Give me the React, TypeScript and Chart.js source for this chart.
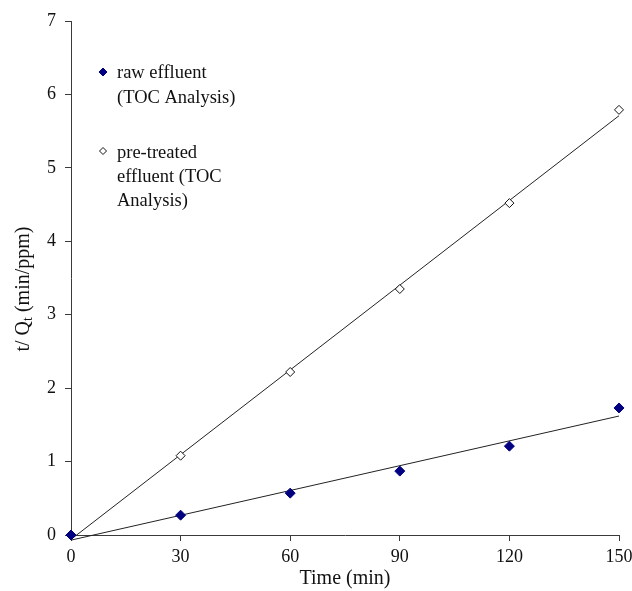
import React, { useEffect, useRef } from "react";
import { Chart, registerables } from "chart.js";

Chart.register(...registerables);

const times = [0, 30, 60, 90, 120, 150];
const rawEffluent = [0, 0.27, 0.57, 0.87, 1.21, 1.73];
const preTreated = [0, 1.08, 2.22, 3.35, 4.52, 5.79];
const trendX = [0, 150];
const rawTrend = [-0.07, 1.62];
const preTrend = [-0.06, 5.71];

const legendRaw = ["raw effluent", "(TOC Analysis)"];
const legendPre = ["pre-treated", "effluent (TOC", "Analysis)"];
const xTitle = "Time (min)";

const FONT = '"Liberation Serif", "Times New Roman", serif';
const AXIS = "#3a3a3a";

function diamond(ctx: CanvasRenderingContext2D, x: number, y: number, r: number, fill: string, stroke: string) {
  ctx.beginPath();
  ctx.moveTo(x, y - r);
  ctx.lineTo(x + r, y);
  ctx.lineTo(x, y + r);
  ctx.lineTo(x - r, y);
  ctx.closePath();
  ctx.fillStyle = fill;
  ctx.fill();
  ctx.strokeStyle = stroke;
  ctx.lineWidth = 1;
  ctx.stroke();
}

const overlay = {
  id: "overlay",
  afterDraw(chart: any) {
    const ctx: CanvasRenderingContext2D = chart.ctx;
    ctx.save();
    // legend
    ctx.font = `18.5px ${FONT}`;
    ctx.textBaseline = "middle";
    ctx.textAlign = "left";
    diamond(ctx, 103, 72, 4, "#000080", "#000080");
    legendRaw.forEach((t, i) => {
      ctx.fillStyle = "#111";
      ctx.fillText(t, 117, 73 + i * 25);
    });
    diamond(ctx, 103, 151, 3.5, "#ffffff", "#111");
    legendPre.forEach((t, i) => {
      ctx.fillStyle = "#111";
      ctx.fillText(t, 117, 153 + i * 24);
    });
    // y title with subscript
    ctx.translate(22, 289);
    ctx.rotate(-Math.PI / 2);
    const big = `20px ${FONT}`;
    const small = `14px ${FONT}`;
    const p1 = "t/ Q";
    const p2 = "t";
    const p3 = " (min/ppm)";
    ctx.font = big;
    const w1 = ctx.measureText(p1).width;
    const w3 = ctx.measureText(p3).width;
    ctx.font = small;
    const w2 = ctx.measureText(p2).width;
    let x = -(w1 + w2 + w3) / 2;
    ctx.fillStyle = "#111";
    ctx.textBaseline = "alphabetic";
    ctx.font = big;
    ctx.fillText(p1, x, 7);
    x += w1;
    ctx.font = small;
    ctx.fillText(p2, x, 10);
    x += w2;
    ctx.font = big;
    ctx.fillText(p3, x, 7);
    ctx.restore();
  },
};

export default function App() {
  const ref = useRef<HTMLCanvasElement>(null);
  useEffect(() => {
    document.body.style.margin = "0";
    const ctx = ref.current!;
    const chart = new Chart(ctx, {
      type: "scatter",
      data: {
        datasets: [
          {
            label: "raw effluent (TOC Analysis)",
            data: times.map((t, i) => ({ x: t, y: rawEffluent[i] })),
            pointStyle: "rectRot",
            pointRadius: 5,
            backgroundColor: "#000080",
            borderColor: "#000080",
            borderWidth: 1,
            showLine: false,
            order: 0,
            clip: false as any,
          },
          {
            label: "pre-treated effluent (TOC Analysis)",
            data: times.map((t, i) => ({ x: t, y: preTreated[i] })),
            pointStyle: "rectRot",
            pointRadius: 4.5,
            backgroundColor: "#ffffff",
            borderColor: "#111",
            borderWidth: 1,
            showLine: false,
            order: 0,
            clip: false as any,
          },
          {
            label: "raw trend",
            data: trendX.map((t, i) => ({ x: t, y: rawTrend[i] })),
            showLine: true,
            pointRadius: 0,
            borderColor: "#222",
            borderWidth: 1,
            order: 1,
            clip: false as any,
          },
          {
            label: "pre trend",
            data: trendX.map((t, i) => ({ x: t, y: preTrend[i] })),
            showLine: true,
            pointRadius: 0,
            borderColor: "#222",
            borderWidth: 1,
            order: 1,
            clip: false as any,
          },
        ],
      },
      options: {
        animation: false,
        responsive: false,
        layout: { padding: { left: 0, right: 13, top: 21, bottom: 0 } },
        plugins: { legend: { display: false }, tooltip: { enabled: false } },
        scales: {
          x: {
            type: "linear",
            min: 0,
            max: 150,
            ticks: { stepSize: 30, color: "#111", font: { family: FONT, size: 18 }, padding: 5 },
            grid: { display: true, drawOnChartArea: false, drawTicks: true, tickLength: 6, color: AXIS },
            border: { display: true, color: AXIS, width: 1 },
            title: { display: true, text: xTitle, color: "#111", font: { family: FONT, size: 20 }, padding: { top: 0, bottom: 0 } },
            afterFit: (s: any) => {
              s.height = 56;
              s.paddingLeft = 0;
              s.paddingRight = 0;
            },
          },
          y: {
            min: 0,
            max: 7,
            ticks: { stepSize: 1, color: "#111", font: { family: FONT, size: 18 }, padding: 9 },
            grid: { display: true, drawOnChartArea: false, drawTicks: true, tickLength: 6, color: AXIS },
            border: { display: true, color: AXIS, width: 1 },
            afterFit: (s: any) => {
              s.width = 71;
              s.paddingTop = 0;
              s.paddingBottom = 0;
            },
          },
        },
      },
      plugins: [overlay],
    });
    return () => chart.destroy();
  }, []);
  return (
    <div style={{ width: 632, height: 591 }}>
      <canvas ref={ref} width={632} height={591} style={{ width: 632, height: 591 }} />
    </div>
  );
}
